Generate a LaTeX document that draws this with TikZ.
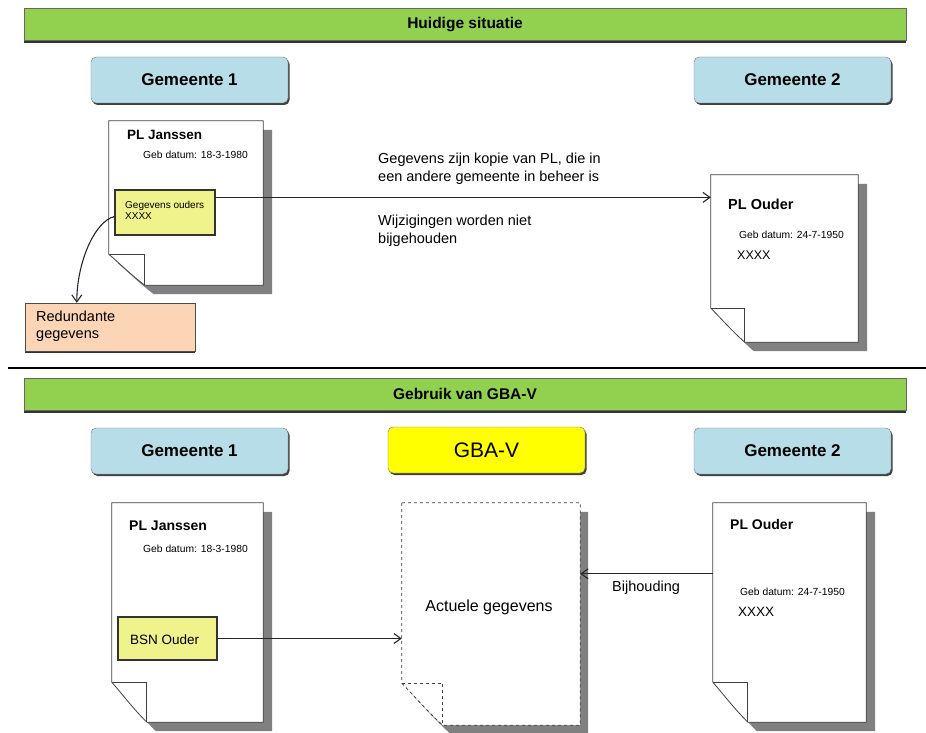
\documentclass[tikz,border=0pt]{standalone}
\usepackage{fontspec}
\setmainfont{Liberation Sans}
\usetikzlibrary{calc,arrows.meta,shadows}
\definecolor{barg}{HTML}{92D050}
\definecolor{gemb}{HTML}{B7DEE8}
\definecolor{pyel}{HTML}{F0F28C}
\definecolor{peach}{HTML}{FBD5B5}
\definecolor{shad}{HTML}{808080}
\definecolor{gyel}{HTML}{FFFF00}
\newcommand\docpath[5]{($(#1.north west)+(#2,#3)$) -- ($(#1.north east)+(#2,#3)$) -- ($(#1.south east)+(#2,#3)$) -- ($(#1.south west)+(#2+#4,#3)$) .. controls ($(#1.south west)+(#2+0.6*#4,#3-0.35*#5)$) and ($(#1.south west)+(#2+0.35*#4,#3-0.65*#5)$) .. ($(#1.south west)+(#2,#3-#5)$) -- cycle}
\newcommand\docflap[3]{($(#1.south west)+(0,-#3)$) -- ++(#2,0) -- ($(#1.south west)+(#2,0)$)}
\begin{document}
\begin{tikzpicture}[x=1pt,y=-1pt,
  >={Straight Barb[length=7pt,width=10pt]},
  bar/.style={draw=black!60, fill=barg, minimum width=882, minimum height=32, inner sep=0,
    font=\bfseries\fontsize{15.5}{18}\selectfont,
    drop shadow={shadow xshift=0pt, shadow yshift=-3pt, fill=black!80, opacity=1}},
  gem/.style={draw=black!55, fill=gemb, rounded corners=5, minimum width=197, minimum height=46, inner sep=0,
    font=\bfseries\fontsize{17}{20}\selectfont,
    drop shadow={shadow xshift=1.5pt, shadow yshift=-2pt, fill=black!75, opacity=1}},
  docnode/.style={inner sep=0, draw=none},
  note/.style={draw=black!80, line width=1.2, inner sep=0},
  txt/.style={inner sep=0, anchor=west, align=left},
  conn/.style={draw=black!85, line width=1.1},
]
\useasboundingbox (0,0) rectangle (926,733);

% ---------- top section ----------
\node[bar] (bar1) at (465,24.5) {Huidige situatie};
\node[gem] (g1a) at (189.5,80) {Gemeente 1};
\node[gem] (g2a) at (792.5,80) {Gemeente 2};

\node[docnode, minimum width=154, minimum height=164] (d1) at (186,203) {};
\node[docnode, minimum width=147, minimum height=167] (d2) at (784.5,258.5) {};

\fill[shad] \docpath{d1}{9}{9}{36}{31};
\draw[black!75, fill=white, line width=0.8] \docpath{d1}{0}{0}{36}{31};
\draw[black!75, line width=0.8] \docflap{d1}{36}{31};
\fill[shad] \docpath{d2}{9}{9}{34}{34};
\draw[black!75, fill=white, line width=0.8] \docpath{d2}{0}{0}{34}{34};
\draw[black!75, line width=0.8] \docflap{d2}{34}{34};

\node[txt, font=\bfseries\fontsize{13.5}{16}\selectfont] (t1a) at (127,135) {PL Janssen};
\node[txt, font=\fontsize{10.3}{12}\selectfont] (t1b) at (143,155) {Geb datum: 18-3-1980};
\node[note, fill=pyel, minimum width=100, minimum height=45] (gy) at (165,212.5) {};
\node[txt, font=\fontsize{10}{11}\selectfont] (t1c) at (125,210.5) {Gegevens ouders\\XXXX};

\node[txt, font=\bfseries\fontsize{14.5}{17}\selectfont] (t2a) at (728,204) {PL Ouder};
\node[txt, font=\fontsize{10.3}{12}\selectfont] (t2b) at (739,235) {Geb datum: 24-7-1950};
\node[txt, font=\fontsize{12.5}{15}\selectfont] (t2c) at (737,255) {XXXX};

\node[draw=black!70, fill=peach, minimum width=170, minimum height=48, inner sep=0,
  drop shadow={shadow xshift=0pt, shadow yshift=-2pt, fill=black!80, opacity=1}] (red) at (110,327) {};
\node[txt, font=\fontsize{14.5}{17}\selectfont] (tred) at (36,326.5) {Redundante\\gegevens};

\node[txt, font=\fontsize{14.5}{18}\selectfont] (ta) at (378,169) {Gegevens zijn kopie van PL, die in\\een andere gemeente in beheer is};
\node[txt, font=\fontsize{14.5}{18}\selectfont] (tb) at (378,231) {Wijzigingen worden niet\\bijgehouden};

\coordinate (c1) at ($(gy.north east)+(0,8)$);
\draw[conn, ->] (c1) -- (c1 -| d2.west);
\draw[conn, ->] ($(gy.west)+(0,4)$) .. controls +(-20,5) and +(0,-40) .. ($(red.north west)+(52,0)$);

\draw[line width=1.3] (8,368) -- (926,368);

% ---------- bottom section ----------
\node[bar] (bar2) at (465,394) {Gebruik van GBA-V};
\node[gem] (g1b) at (189.5,451) {Gemeente 1};
\node[gem, fill=gyel, font=\fontsize{21}{24}\selectfont] (gba) at (486.5,450) {GBA-V};
\node[gem] (g2b) at (792.5,451) {Gemeente 2};

\node[docnode, minimum width=151, minimum height=219] (d3) at (187.5,612.5) {};
\node[docnode, minimum width=178, minimum height=222] (d4) at (491,614) {};
\node[docnode, minimum width=153, minimum height=219] (d5) at (789.5,612.5) {};

\fill[shad] \docpath{d3}{9}{9}{35}{40};
\draw[black!75, fill=white, line width=0.8] \docpath{d3}{0}{0}{35}{40};
\draw[black!75, line width=0.8] \docflap{d3}{35}{40};
\fill[shad] \docpath{d4}{8}{9}{41}{42};
\draw[black!75, fill=white, line width=0.8, dashed] \docpath{d4}{0}{0}{41}{42};
\draw[black!75, line width=0.8, dashed] \docflap{d4}{41}{42};
\fill[shad] \docpath{d5}{9}{9}{35}{40};
\draw[black!75, fill=white, line width=0.8] \docpath{d5}{0}{0}{35}{40};
\draw[black!75, line width=0.8] \docflap{d5}{35}{40};

\node[txt, font=\bfseries\fontsize{14}{17}\selectfont] (t3a) at (129,526) {PL Janssen};
\node[txt, font=\fontsize{10.3}{12}\selectfont] (t3b) at (143,549) {Geb datum: 18-3-1980};
\node[note, fill=pyel, minimum width=99, minimum height=43] (bsn) at (167.5,638.5) {};
\node[txt, font=\fontsize{13.5}{16}\selectfont] (tbsn) at (130,639.5) {BSN Ouder};

\node[font=\fontsize{16}{19}\selectfont, inner sep=0] (tact) at (489,607) {Actuele gegevens};

\node[txt, font=\bfseries\fontsize{14}{17}\selectfont] (t5a) at (730,524) {PL Ouder};
\node[txt, font=\fontsize{10.3}{12}\selectfont] (t5b) at (740,592) {Geb datum: 24-7-1950};
\node[txt, font=\fontsize{13.5}{16}\selectfont] (t5c) at (738,612) {XXXX};

\draw[conn, ->] (bsn.east) -- (bsn.east -| d4.west);
\coordinate (c2) at ($(d5.north west)+(0,71)$);
\draw[conn, ->] (c2) -- (c2 -| d4.east);
\node[txt, font=\fontsize{14.5}{17}\selectfont] (tbij) at (612,588) {Bijhouding};
\end{tikzpicture}
\end{document}
